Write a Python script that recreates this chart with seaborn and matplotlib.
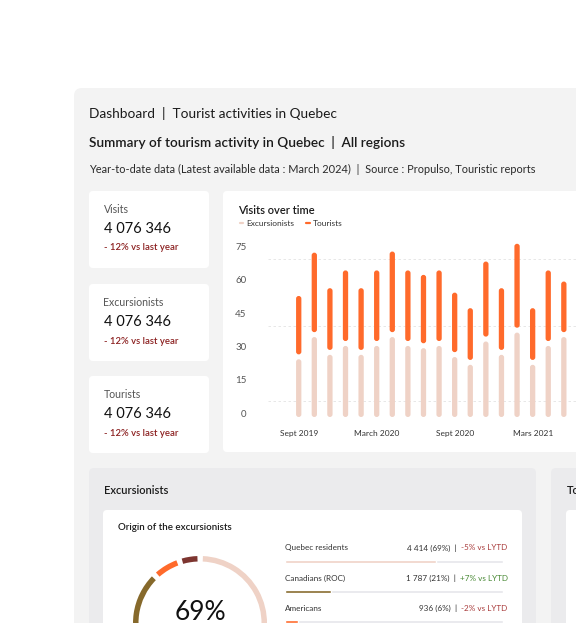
import numpy as np
import pandas as pd
import matplotlib
matplotlib.use("Agg")
import matplotlib.pyplot as plt
from matplotlib.patches import FancyBboxPatch
from matplotlib.transforms import ScaledTranslation
import seaborn as sns

# ---- data ----
kpi_labels = ["Visits", "Excursionists", "Tourists"]
kpi_values = ["4 076 346", "4 076 346", "4 076 346"]
kpi_deltas = ["- 12% vs last year", "- 12% vs last year", "- 12% vs last year"]

periods = [f"P{i:02d}" for i in range(1, 19)]
excursionists = [26, 36, 28, 32, 28, 32, 36, 32, 31, 32, 27, 23.5, 34, 28, 38, 23.5, 32, 36]
tourists = [28.5, 38, 30, 34, 30, 34, 38.5, 34, 33, 34, 29, 25.5, 36, 30, 40, 25.5, 34, 25]
date_labels = ["Sept 2019", "March 2020", "Sept 2020", "Mars 2021"]
date_label_idx = [0, 5, 10, 15]
y_ticks = [0, 15, 30, 45, 60, 75]
grid_levels = [7, 41, 71]

origins = ["Quebec residents", "Canadians (ROC)", "Americans", "Others"]
origin_share = [69, 21, 6, 4]
origin_counts = ["4 414", "1 787", "936"]
origin_lytd = ["-5%", "+7%", "-2%"]

# ---- style ----
PALE = "#efd2c6"
ORANGE = "#ff6a2b"
OLIVE = "#86692b"
BROWN = "#7d3530"
RED = "#a93c3c"
GREEN = "#4a8a36"
DARK = "#1b1b1b"
origin_colors = [PALE, OLIVE, ORANGE, BROWN]
lytd_colors = [RED, GREEN, RED]

sns.set_theme(style="white")
plt.rcParams["font.family"] = ["Lato", "DejaVu Sans"]

W, H = 576, 623
fig = plt.figure(figsize=(W / 100, H / 100), dpi=100)
fig.patch.set_facecolor("white")

bg = fig.add_axes([0, 0, 1, 1])
bg.set_xlim(0, W)
bg.set_ylim(H, 0)
bg.axis("off")


def px_axes(x0, y0, x1, y1):
    a = fig.add_axes([x0 / W, 1 - y1 / H, (x1 - x0) / W, (y1 - y0) / H])
    a.set_facecolor("none")
    return a


def box(x0, y0, x1, y1, color, r=5):
    bg.add_patch(FancyBboxPatch((x0, y0), x1 - x0, y1 - y0,
                                boxstyle=f"round,pad=0,rounding_size={r}",
                                fc=color, ec="none"))


# panels and cards
box(74, 88, 640, 700, "#f3f3f3", r=8)
for y0 in [191, 284, 376]:
    box(89, y0, 209, y0 + 77, "white", r=4)
box(223, 191, 640, 452, "white", r=4)
box(89, 468, 536, 700, "#ebebed", r=5)
box(551, 468, 700, 700, "#ebebed", r=5)
box(103, 510, 522, 700, "white", r=4)
box(566, 510, 700, 700, "white", r=4)

# header texts
bg.text(89, 113.5, "Dashboard  |  Tourist activities in Quebec", size=9.8, color=DARK, va="center")
bg.text(89, 142.3, "Summary of tourism activity in Quebec  |  All regions", size=9.8,
        weight="semibold", color=DARK, va="center")
bg.text(89, 169.3, "Year-to-date data (Latest available data : March 2024)  |  Source : Propulso, Touristic reports",
        size=7.9, color="#2a2a2a", va="center")

# KPI cards
for y0, lab, val, dlt in zip([191, 284, 376], kpi_labels, kpi_values, kpi_deltas):
    bg.text(103.5, y0 + 18.5, lab, size=7.6, color="#555555", va="center")
    bg.text(103.5, y0 + 38.3, val, size=10.5, color="#111111", va="center")
    bg.text(103.5, y0 + 57, dlt, size=6.8, color="#8b1f1f", weight="semibold", va="center")

# ---- visits over time ----
bg.text(238.3, 210, "Visits over time", size=8, weight="semibold", color=DARK, va="center")
bg.plot([239.5, 242.5], [223.3, 223.3], color=PALE, lw=1.6, solid_capstyle="round")
bg.text(246.5, 223.3, "Excursionists", size=6, color="#333333", va="center")
bg.plot([306, 309.5], [223.3, 223.3], color=ORANGE, lw=1.6, solid_capstyle="round")
bg.text(312.7, 223.3, "Tourists", size=6, color="#333333", va="center")

df = pd.DataFrame({"period": periods, "exc": excursionists, "tour": tourists})
df["total"] = df["exc"] + df["tour"]
gap = 2.2  # white space between the two stacked pills

ax = px_axes(268, 238, 576, 420)
for lvl in grid_levels:
    ax.axhline(lvl, color="#e3e3e3", lw=0.6, ls=(0, (3, 3)), zorder=0)
sns.barplot(data=df, x="period", y="exc", color=PALE, width=0.34, saturation=1,
            errorbar=None, ax=ax)
sns.barplot(data=df, x="period", y="tour", color=ORANGE, width=0.34, saturation=1,
            errorbar=None, ax=ax)
ax.set_xlim(-1.97, 17.78)
ax.set_ylim(-1.35, 80.6)

# turn the rectangles into pills, tourists stacked on the excursionists
aspect = ((80.6 + 1.35) / 182) / ((17.78 + 1.97) / 308)
rects = list(ax.patches)
n_per = len(df)
for k, p in enumerate(rects):
    i = k % n_per
    x, w = p.get_x(), p.get_width()
    if k < n_per:
        y0, h = 0, df["exc"].iloc[i]
    else:
        y0, h = df["exc"].iloc[i] + gap, df["tour"].iloc[i] - gap
    pill = FancyBboxPatch((x, y0), w, h, boxstyle=f"round,pad=0,rounding_size={w / 2}",
                          mutation_aspect=aspect, fc=p.get_facecolor(), ec="none", zorder=2)
    p.remove()
    ax.add_patch(pill)

ax.set_xticks(date_label_idx, date_labels)
ax.set_yticks(y_ticks)
ax.set_xlabel("")
ax.set_ylabel("")
ax.tick_params(axis="y", length=0, labelsize=7, labelcolor="#555555", pad=15.5)
ax.tick_params(axis="x", length=0, labelsize=6, labelcolor="#333333", pad=7.5)
sns.despine(ax=ax, left=True, bottom=True)
shift = ScaledTranslation(0, 0.04, fig.dpi_scale_trans)
for lab in ax.get_yticklabels():
    lab.set_transform(lab.get_transform() + shift)

# ---- excursionists section ----
bg.text(104, 490, "Excursionists", size=8, weight="semibold", color=DARK, va="center")
bg.text(566.5, 490, "Tourists", size=8, weight="semibold", color=DARK, va="center")
bg.text(118.3, 528, "Origin of the excursionists", size=7, weight="semibold", color=DARK, va="center")

# donut
gap_pct = 1.4
vals, cols = [], []
for s, c in zip(origin_share, origin_colors):
    vals += [s, gap_pct]
    cols += [c, (0, 0, 0, 0)]
dax = px_axes(130, 553, 270, 693)
dax.pie(vals, colors=cols, startangle=90 - gap_pct * 1.8, counterclock=False, radius=67,
        wedgeprops=dict(width=5.5, linewidth=0))
dax.set_xlim(-70, 70)
dax.set_ylim(-70, 70)
dax.set_aspect("equal")
dax.axis("off")
bg.text(200.5, 613, f"{origin_share[0]}%", size=19, color="#111111", ha="center", va="center")

# origin bars
lax = px_axes(284.7, 534, 503.3, 624.6)
n = len(origin_counts)
sns.barplot(y=origins[:n], x=[100] * n, color="#e6e6ea", width=0.11, orient="h",
            saturation=1, errorbar=None, ax=lax)
sns.barplot(y=origins[:n], x=origin_share[:n], hue=origins[:n],
            palette=dict(zip(origins[:n], origin_colors[:n])), width=0.11, orient="h",
            saturation=1, errorbar=None, legend=False, ax=lax)
lax.set_xlim(0, 100)
lax.set_ylim(2.1, -0.9)
lax.axis("off")
for i in range(n):
    lax.text(0, i - 0.44, origins[i], size=5.9, color="#333333", va="center")
    t = lax.text(102, i - 0.44, f"{origin_lytd[i]} vs LYTD", size=5.9, color=lytd_colors[i],
                 ha="right", va="center")
    lax.annotate(f"{origin_counts[i]} ({origin_share[i]}%)  |  ", xy=(0, 0.5), xycoords=t,
                 size=5.9, color="#333333", ha="right", va="center")

fig.savefig("out.png", dpi=100, facecolor="white")
